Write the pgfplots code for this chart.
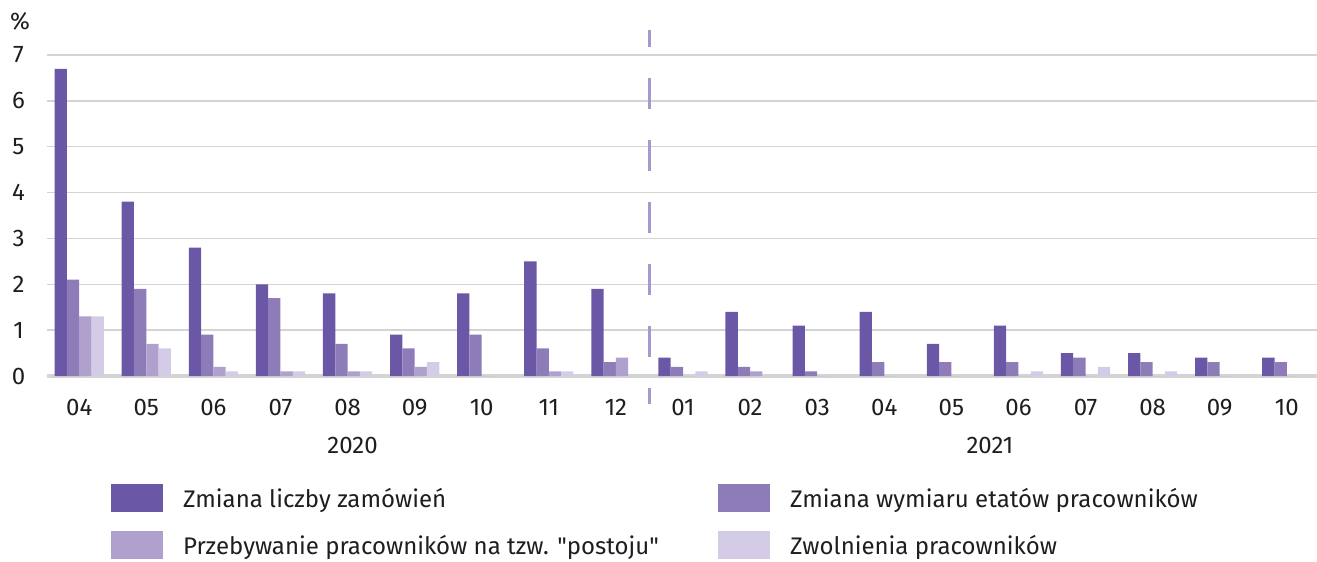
\documentclass[border=0pt]{standalone}
\usepackage{pgfplots}
\pgfplotsset{compat=1.18}
\usepackage{pgfplotstable}
\usepackage{fontspec}
\setmainfont{Fira Sans}[Ligatures=TeXOff]
\definecolor{cA}{HTML}{6A57A5}
\definecolor{cB}{HTML}{8E7CB8}
\definecolor{cC}{HTML}{B0A0CE}
\definecolor{cD}{HTML}{D4CCE6}
\definecolor{cDash}{HTML}{A898CE}
\definecolor{cGrid}{HTML}{D4D4D4}
\definecolor{cTxt}{HTML}{1E1E1E}
\newcommand{\ff}{\fontsize{24bp}{28bp}\selectfont}

\pgfplotstableread{
x y
0 6.7
1 3.8
2 2.8
3 2.0
4 1.8
5 0.9
6 1.8
7 2.5
8 1.9
9 0.4
10 1.4
11 1.1
12 1.4
13 0.7
14 1.1
15 0.5
16 0.5
17 0.4
18 0.4
}\sA
\pgfplotstableread{
x y
0 2.1
1 1.9
2 0.9
3 1.7
4 0.7
5 0.6
6 0.9
7 0.6
8 0.3
9 0.2
10 0.2
11 0.1
12 0.3
13 0.3
14 0.3
15 0.4
16 0.3
17 0.3
18 0.3
}\sB
\pgfplotstableread{
x y
0 1.3
1 0.7
2 0.2
3 0.1
4 0.1
5 0.2
6 0
7 0.1
8 0.4
9 0
10 0.1
11 0
12 0
13 0
14 0
15 0
16 0
17 0
18 0
}\sC
\pgfplotstableread{
x y
0 1.3
1 0.6
2 0.1
3 0.1
4 0.1
5 0.3
6 0
7 0.1
8 0
9 0.1
10 0
11 0
12 0
13 0
14 0.1
15 0.2
16 0.1
17 0
18 0
}\sD

\begin{document}
\begin{tikzpicture}[font=\ff, text=cTxt]
\useasboundingbox (0,0) rectangle (1317bp,562bp);
\begin{axis}[
  at={(47bp,186bp)}, anchor=south west,
  scale only axis, width=1270bp, height=321bp,
  xmin=-0.48, xmax=18.45, ymin=0, ymax=7,
  ybar=0pt, bar width=12.3bp,
  xtick=data,
  xticklabels={04,05,06,07,08,09,10,11,12,01,02,03,04,05,06,07,08,09,10},
  ytick={1,2,3,4,5,6,7},
  extra y ticks={0}, extra y tick style={grid style={draw=cGrid, line width=3.2bp}},
  ymajorgrids, grid style={draw=cGrid, line width=1.4bp},
  axis line style={draw=none},
  major tick length=0pt,
  tick style={draw=none},
  /pgf/number format/assume math mode=true,
  tick label style={font=\ff, text=cTxt},
  yticklabel style={anchor=center, xshift=-28.5bp},
  xticklabel style={anchor=base, yshift=-39.5bp},
  clip=false,
  legend columns=2,
  legend style={draw=none, fill=none, inner sep=0pt, font=\ff, text=cTxt,
    at={(axis description cs:0.0504,-0.3364)}, anchor=north west,
    nodes={inner sep=0pt},
    /tikz/every odd column/.append style={column sep=20bp},
    /tikz/row sep=19bp},
  legend cell align=left,
]
\addplot[fill=cA, draw=none, legend image code/.code={\fill[cA] (0bp,-14bp) rectangle (52bp,14bp);}] table[x=x,y=y]{\sA};
\addlegendentry{\makebox[535bp][l]{Zmiana liczby zamówień}}
\addplot[fill=cB, draw=none, legend image code/.code={\fill[cB] (0bp,-14bp) rectangle (52bp,14bp);}] table[x=x,y=y]{\sB};
\addlegendentry{Zmiana wymiaru etatów pracowników}
\addplot[fill=cC, draw=none, legend image code/.code={\fill[cC] (0bp,-14bp) rectangle (52bp,14bp);}] table[x=x,y=y]{\sC};
\addlegendentry{\makebox[535bp][l]{Przebywanie pracowników na tzw. "postoju"}}
\addplot[fill=cD, draw=none, legend image code/.code={\fill[cD] (0bp,-14bp) rectangle (52bp,14bp);}] table[x=x,y=y]{\sD};
\addlegendentry{Zwolnienia pracowników}
\draw[cDash, line width=2.2bp, dash pattern=on 31bp off 31bp, dash phase=14bp]
  (axis cs:8.5,7.545) -- (axis cs:8.5,-0.611);
\node[anchor=base] at ([xshift=5bp,yshift=-77bp]axis cs:4,0) {2020};
\node[anchor=base] at ([xshift=5bp,yshift=-77bp]axis cs:13.5,0) {2021};
\node[anchor=center] at (axis description cs:-0.0213,1.1044) {\%};
\end{axis}
\end{tikzpicture}
\end{document}
